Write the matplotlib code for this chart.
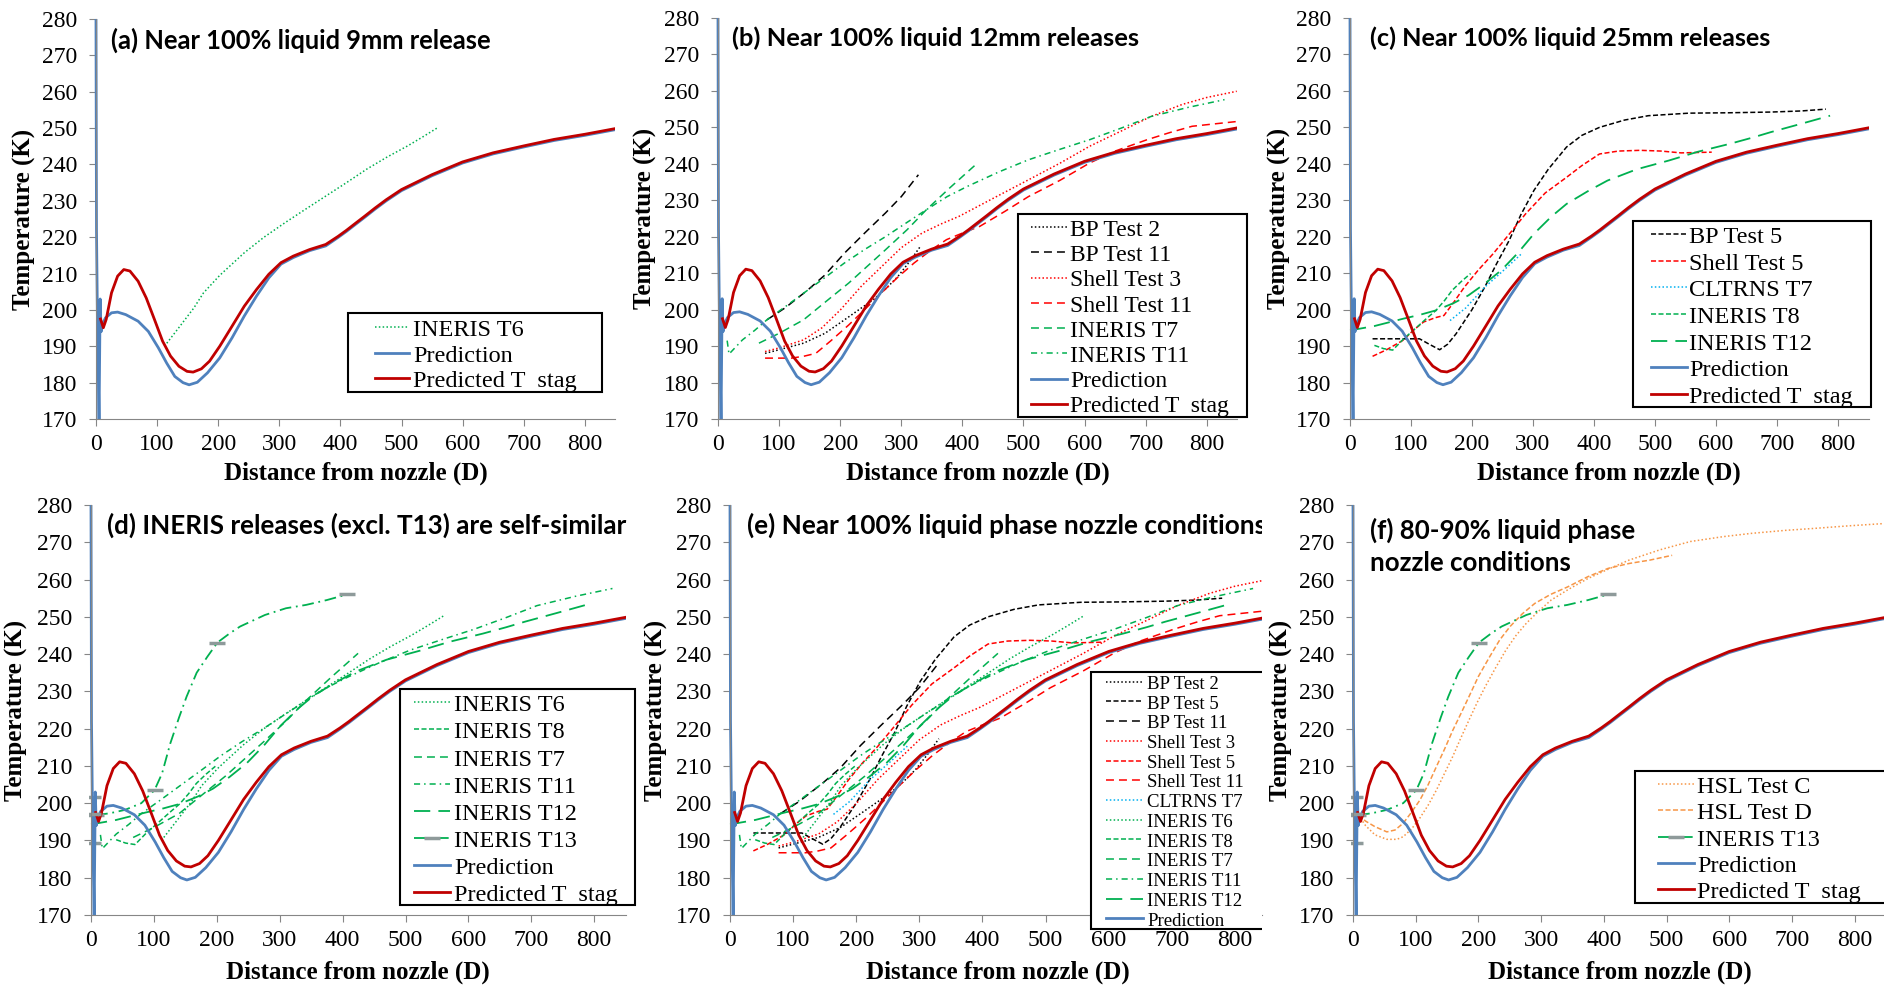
import matplotlib.pyplot as plt
from matplotlib.lines import Line2D
from matplotlib.patches import Rectangle
from matplotlib.transforms import Bbox

plt.rcParams['font.family'] = ['Liberation Serif', 'DejaVu Serif']

W, H = 1884, 985  # canvas in pixels (dpi 100)

# model curves: distance from nozzle (D) vs temperature (K)
pred_x = [0, 0.8, 2.5, 5, 6.8, 8.3, 10, 15.4, 25.4, 35.4, 48.8, 68.9, 85.6, 102, 115.6, 129,
          142.4, 152.4, 165.8, 182.5, 202.5, 222.6, 242.6, 262.7, 282.8, 302.8, 322.9, 349.6,
          376, 396, 410, 423, 440, 456.6, 475, 500, 550, 600, 650, 700, 750, 800, 851]
pred_T = [280, 222, 195, 170, 203, 194, 195.8, 197.8, 199.2, 199.4, 198.7, 196.9, 194.1, 189.6,
          185.4, 181.7, 180, 179.4, 180.1, 182.7, 186.8, 192.3, 198.3, 203.8, 208.8, 212.6, 214.4,
          216.3, 217.6, 219.9, 221.6, 223.3, 225.5, 227.7, 230.0, 232.8, 236.9, 240.4, 242.9,
          244.8, 246.6, 248.0, 249.6]
stag_x = [7.4, 12, 16.7, 25.4, 35.4, 45.5, 55.5, 68.9, 82.2, 95.6, 109, 122, 135.7, 149, 159,
          172.5, 185.8, 202.5, 222.6, 242.6, 262.7, 282.8, 302.8, 322.9, 349.6, 376, 396, 410,
          423, 440, 456.6, 475, 500, 550, 600, 650, 700, 750, 800, 851]
stag_T = [197.5, 195.1, 197.4, 204.7, 209.3, 211.1, 210.7, 207.9, 203.3, 197.4, 191.4, 187.3,
          184.5, 183.1, 182.9, 183.8, 185.9, 190, 195.5, 201, 205.6, 209.8, 213.0, 214.8, 216.6,
          218, 220.2, 221.9, 223.6, 225.8, 228.0, 230.3, 233.1, 237.2, 240.7, 243.2, 245.1,
          246.9, 248.3, 249.9]

# measured centreline temperatures
bp2_x = [77, 100, 140, 175, 207, 235, 254, 275, 294, 315, 331]
bp2_T = [188, 189, 190.8, 193.5, 197.2, 200.5, 202.7, 205.8, 209, 213.5, 217.3]
bp5_x = [37, 80, 114, 130, 147, 160, 174, 200, 221, 240, 261, 280, 301.5, 325, 355, 380, 409,
         450, 489, 556, 620, 690, 740, 780]
bp5_T = [192, 192, 192, 190.5, 189, 190.5, 193.4, 200, 206.2, 212.5, 219, 226, 232.7, 238.5,
         244.6, 247.8, 250, 252, 253.2, 253.9, 254, 254.2, 254.5, 255]
bp11_x = [80, 110, 147, 175, 207, 240, 274, 300, 328]
bp11_T = [197.2, 200.5, 205.4, 209.5, 215.5, 221, 226.5, 231, 237]
sh3_x = [77, 100, 140, 170, 200.7, 235, 274, 300, 334, 365, 394.6, 450, 508, 560, 608, 660, 709,
         760, 800, 849]
sh3_T = [188.5, 189.5, 191.7, 195, 200, 206.5, 212.8, 217, 221, 223.5, 225.6, 230.5, 235.6, 240.2,
         244.8, 249, 253, 256.3, 258.2, 259.9]
sh5_x = [37, 60, 87, 105, 120.6, 140, 154, 170, 187.6, 210, 234.5, 260, 288, 320, 355, 380, 409,
         440, 475.7, 510, 542.7, 593]
sh5_T = [187.2, 189, 191.6, 194.5, 196.6, 197.8, 198.4, 202, 206.2, 210.8, 215.3, 220.5, 226.3,
         232, 236.3, 239.5, 242.7, 243.5, 243.7, 243.5, 243, 243.2]
sh11_x = [77, 100, 120, 140, 160, 185, 214, 240, 267, 295, 321, 350, 374, 400, 428, 470, 508,
          560, 608, 650, 702, 740, 776, 815, 849]
sh11_T = [186.7, 186.7, 186.7, 187.2, 188, 191.5, 195.8, 200, 204.5, 209, 212.8, 216.5, 219.2,
          221, 222.8, 227, 231, 235.5, 240.2, 243.5, 246.6, 248.6, 250.3, 251, 251.6]
cl7_x = [164, 190, 221, 250, 281]
cl7_T = [197, 200.5, 206.2, 210.5, 215.3]
in6_x = [112, 135, 160, 176, 202.5, 242.6, 275, 309.5, 343, 376, 410, 443, 476, 510, 535, 560]
in6_T = [190, 195, 200.5, 204.7, 209.5, 215.7, 220, 224, 227.7, 231.3, 235, 238.7, 242, 245.1,
         247.6, 250.2]
in7_x = [67, 100, 140, 175, 214, 245, 274, 310, 341, 380, 424.6]
in7_T = [190.8, 193.5, 197.2, 202, 207.3, 212, 216.4, 222, 227.4, 233.5, 240.2]
in8_x = [40, 55, 70, 88, 107, 125, 141, 155, 167.5, 183, 197.7]
in8_T = [190.2, 189.3, 188.9, 192, 194.8, 197.5, 199.8, 202.5, 205.3, 207.8, 209.9]
in11_x = [15, 18, 40, 60, 80, 110, 140, 175, 207, 240, 274, 310, 341, 375, 408, 460, 508, 560,
          608, 660, 709, 770, 829]
in11_T = [191.5, 187.8, 191.7, 194.3, 197.2, 200.8, 204.5, 208.8, 212.8, 216.5, 220, 224, 227.4,
          231, 233.8, 237.8, 241.1, 244, 246.6, 249.8, 253, 255.5, 257.6]
in12_x = [0, 40, 87, 115, 141, 170, 194, 220, 248, 275, 301.5, 330, 355, 390, 422, 470, 522.6,
          570, 623, 660, 690, 740, 787]
in12_T = [194.3, 195.5, 197.5, 198.6, 199.8, 201.8, 203.9, 207, 210.8, 215.5, 220.8, 225.5, 229,
          232.5, 235.4, 238.5, 240.9, 243.3, 245.5, 247.2, 248.7, 251, 253.2]
in13_x = [8, 30, 54, 80, 101, 113, 126, 140, 152, 168, 185, 201, 220, 237, 276.6, 310, 342, 375,
          407]
in13_T = [196.8, 197.3, 198.2, 200, 203.5, 208, 216, 223, 228.6, 235, 239.3, 243.1, 245.5, 247.4,
          250.5, 252.3, 253.2, 254.5, 256]
in13_marks = [0, 4, 11, 18]
# scatter bar on the first INERIS T13 reading
in13_bar_x = [4]
in13_bar_T = [197]
in13_bar_lo = [7.8]
in13_bar_hi = [4.6]
hslc_x = [8.5, 20, 35, 54, 70, 80, 93, 106.6, 120, 133, 146, 159, 172, 185, 198, 211, 228, 244,
          260, 276.6, 296, 316, 345, 375, 410, 440, 490, 538, 590, 636, 690, 734, 790, 845]
hslc_T = [196.8, 194, 191.5, 190.3, 190.3, 191, 193, 196, 199.5, 203.5, 208, 212.5, 217.5, 222.3,
          227, 231.3, 236.5, 241.1, 245, 248.3, 251.5, 254.5, 257.5, 260.3, 263, 265.2, 268, 270.2,
          271.5, 272.4, 273.2, 273.7, 274.4, 275]
hsld_x = [8.5, 20, 35, 54, 67, 80, 93, 106.6, 120, 133, 146, 159, 172, 185, 200, 218, 234, 250.5,
          270, 290, 315, 342, 375, 407, 440, 473, 509]
hsld_T = [196.8, 195.2, 193.7, 192.3, 192.8, 194.6, 197.5, 200.8, 205, 209.8, 214.5, 219.5, 224,
          228.6, 234, 239.3, 243.8, 247.4, 250.8, 253.6, 256, 258, 260.8, 263, 264.3, 265.2, 266.5]

BLACK, RED, GREEN, CYAN, ORANGE = '#000000', '#FF0000', '#00B050', '#00B0F0', '#F79646'
BLUE, DARKRED, GREY = '#4F81BD', '#C00000', '#8E9A9A'
DOT = (1, 1.5)
SDASH = (3.3, 1.6)
DASH = (5.2, 3.3)
LDASH = (9, 4.5)
DASHDOT = (4, 2.6, 1, 2.6)
LDASHDOT = (6.5, 2.6, 1, 2.6)

TSTAG = 'Predicted T  stag'
series = {
    'BP Test 2': (bp2_x, bp2_T, BLACK, DOT, 1.1),
    'BP Test 5': (bp5_x, bp5_T, BLACK, SDASH, 1.1),
    'BP Test 11': (bp11_x, bp11_T, BLACK, DASH, 1.1),
    'Shell Test 3': (sh3_x, sh3_T, RED, DOT, 1.1),
    'Shell Test 5': (sh5_x, sh5_T, RED, SDASH, 1.1),
    'Shell Test 11': (sh11_x, sh11_T, RED, DASH, 1.1),
    'CLTRNS T7': (cl7_x, cl7_T, CYAN, DOT, 1.1),
    'INERIS T6': (in6_x, in6_T, GREEN, DOT, 1.1),
    'INERIS T8': (in8_x, in8_T, GREEN, SDASH, 1.1),
    'INERIS T7': (in7_x, in7_T, GREEN, DASH, 1.1),
    'INERIS T11': (in11_x, in11_T, GREEN, DASHDOT, 1.1),
    'INERIS T12': (in12_x, in12_T, GREEN, LDASH, 1.3),
    'INERIS T13': (in13_x, in13_T, GREEN, LDASHDOT, 1.3),
    'HSL Test C': (hslc_x, hslc_T, ORANGE, DOT, 1.1),
    'HSL Test D': (hsld_x, hsld_T, ORANGE, SDASH, 1.1),
    'Prediction': (pred_x, pred_T, BLUE, None, 2.0),
    TSTAG: (stag_x, stag_T, DARKRED, None, 2.0),
}

panels = [
    dict(x0=96, top=19, bottom=419, scale=0.611, xmax=850,
         draw=['INERIS T6', 'Prediction', TSTAG],
         title=(['(a) Near 100% liquid 9mm release'], 111, 40, 381), ylab=24.5, xlab=473,
         leg=(None, (348, 313, 602, 392), (375, 409), 413, 328, 25.7, 17.5)),
    dict(x0=718, top=18, bottom=419, scale=0.611, xmax=850,
         draw=['BP Test 2', 'BP Test 11', 'Shell Test 3', 'Shell Test 11', 'INERIS T7',
               'INERIS T11', 'Prediction', TSTAG],
         title=(['(b) Near 100% liquid 12mm releases'], 732, 38, 408), ylab=645, xlab=473,
         leg=(None, (1018, 214, 1246.5, 417), (1031, 1067), 1070, 228.3, 25.2, 17)),
    dict(x0=1350, top=18, bottom=419, scale=0.61, xmax=850,
         draw=['BP Test 5', 'Shell Test 5', 'CLTRNS T7', 'INERIS T8', 'INERIS T12',
               'Prediction', TSTAG],
         title=(['(c) Near 100% liquid 25mm releases'], 1370, 38, 402), ylab=1279, xlab=473,
         leg=(None, (1633, 221, 1871, 407), (1651, 1687), 1689, 235, 26.67, 17.5)),
    dict(x0=91, top=505, bottom=915, scale=0.629, xmax=850,
         draw=['INERIS T6', 'INERIS T8', 'INERIS T7', 'INERIS T11', 'INERIS T12', 'INERIS T13',
               'Prediction', TSTAG],
         title=(['(d) INERIS releases (excl. T13) are self-similar'], 107, 525, 520), ylab=16,
         xlab=972, leg=(None, (400, 689, 635, 905), (414, 450), 454, 703.3, 27.14, 17.5)),
    dict(x0=730, top=505, bottom=915, scale=0.631, xmax=843,
         draw=['BP Test 2', 'BP Test 5', 'BP Test 11', 'Shell Test 3', 'Shell Test 5',
               'Shell Test 11', 'CLTRNS T7', 'INERIS T6', 'INERIS T8', 'INERIS T7',
               'INERIS T11', 'INERIS T12', 'Prediction', TSTAG],
         title=(['(e) Near 100% liquid phase nozzle conditions'], 747, 525, 521), ylab=656,
         xlab=972, clip=1262,
         leg=('e', (1091, 672, 1275, 929), (1106, 1143), 1147, 682.7, 19.72, 13.5)),
    dict(x0=1353, top=505, bottom=915, scale=0.627, xmax=847,
         draw=['HSL Test C', 'HSL Test D', 'INERIS T13', 'Prediction', TSTAG],
         title=(['(f) 80-90% liquid phase', 'nozzle conditions'], 1370, 530, 265), ylab=1281,
         xlab=972, leg=(None, (1635, 771, 1895, 903), (1658, 1694), 1697, 785, 26.25, 17.5)),
]

fig = plt.figure(figsize=(W / 100, H / 100), dpi=100)
renderer = fig.canvas.get_renderer()


def fx(px):
    return px / W


def fy(py):
    return 1 - py / H


def styled(line, name):
    dashes = series[name][3]
    if dashes:
        line.set_dashes(dashes)
    if name == 'INERIS T13':
        line.set_marker('_')
        line.set_markersize(11)
        line.set_markeredgewidth(2.5)
        line.set_markeredgecolor(GREY)
    return line


for p in panels:
    sc = p['scale']
    left = p['x0'] - 3 * sc
    right = p['x0'] + p['xmax'] * sc
    ax = fig.add_axes([fx(left), fy(p['bottom']), (right - left) / W,
                       (p['bottom'] - p['top']) / H])
    ax.set_xlim(-3, p['xmax'])
    ax.set_ylim(170, 280)
    ax.patch.set_alpha(0)
    for s in ['top', 'right']:
        ax.spines[s].set_visible(False)
    ax.spines['left'].set_position(('data', 0))
    ax.spines['bottom'].set_bounds(0, p['xmax'])
    for s in ['left', 'bottom']:
        ax.spines[s].set_color('#868686')
        ax.spines[s].set_linewidth(0.8)
    ax.set_xticks(range(0, 801, 100))
    ax.set_yticks(range(170, 281, 10))
    ax.tick_params(direction='out', length=5, width=0.8, color='#868686', labelsize=17)
    ax.tick_params(axis='x', pad=6)
    ax.tick_params(axis='y', pad=8.5)

    for name in p['draw']:
        x, T, color, dashes, lw = series[name]
        line, = ax.plot(x, T, color=color, lw=lw)
        styled(line, name)
        if name == 'INERIS T13':
            line.set_markevery(in13_marks)
            ax.errorbar(in13_bar_x, in13_bar_T, yerr=[in13_bar_lo, in13_bar_hi], fmt='_',
                        color=GREY, ms=10, mew=2.5, elinewidth=1.5, capsize=5, capthick=2.5)

    # panel heading, scaled so its first line has the printed width
    lines, tx, ty, tw = p['title']
    t = fig.text(fx(tx), fy(ty), lines[0], family='Lato', fontweight='bold', fontsize=16,
                 ha='left', va='center')
    size = 16 * tw / t.get_window_extent(renderer).width
    t.set_fontsize(size)
    heads = [t]
    for k, extra in enumerate(lines[1:], start=1):
        heads.append(fig.text(fx(tx), fy(ty + k * 33), extra, family='Lato',
                              fontweight='bold', fontsize=size, ha='left', va='center'))
    if 'clip' in p:
        for h in heads:
            h.set_clip_box(Bbox.from_extents(0, 0, p['clip'], H))
            h.set_clip_on(True)

    fig.text(fx(p['ylab']), fy((p['top'] + p['bottom']) / 2), 'Temperature (K)',
             rotation=90, ha='center', va='center', fontsize=18, fontweight='bold')
    fig.text(fx(p['x0'] + 425 * sc), fy(p['xlab']), 'Distance from nozzle (D)',
             ha='center', va='center', fontsize=18, fontweight='bold')

    # legend box
    tag, box, hx, txt_x, y0, pitch, fs = p['leg']
    names = [n for n in p['draw'] if not (tag == 'e' and n == TSTAG)]
    bx0, by0, bx1, by1 = box
    rect = Rectangle((fx(bx0), fy(by1)), (bx1 - bx0) / W, (by1 - by0) / H,
                     transform=fig.transFigure, facecolor='white', edgecolor='black',
                     lw=1.5, zorder=5)
    fig.add_artist(rect)
    if 'clip' in p:
        rect.set_clip_box(Bbox.from_extents(0, 0, p['clip'], H))
        rect.set_clip_on(True)
    fs_px = fs * 100 / 72
    for i, name in enumerate(names):
        yc = y0 + i * pitch
        x, T, color, dashes, lw = series[name]
        hm = (hx[0] + hx[1]) / 2
        sample = Line2D([fx(hx[0]), fx(hm), fx(hx[1])], [fy(yc - 1)] * 3,
                        transform=fig.transFigure, color=color, lw=lw, zorder=6)
        styled(sample, name)
        if name == 'INERIS T13':
            sample.set_markevery([1])
        fig.add_artist(sample)
        fig.text(fx(txt_x), fy(yc + 0.33 * fs_px), name, fontsize=fs, va='baseline',
                 ha='left', zorder=6)

fig.savefig('out.png', dpi=100, facecolor='white')
